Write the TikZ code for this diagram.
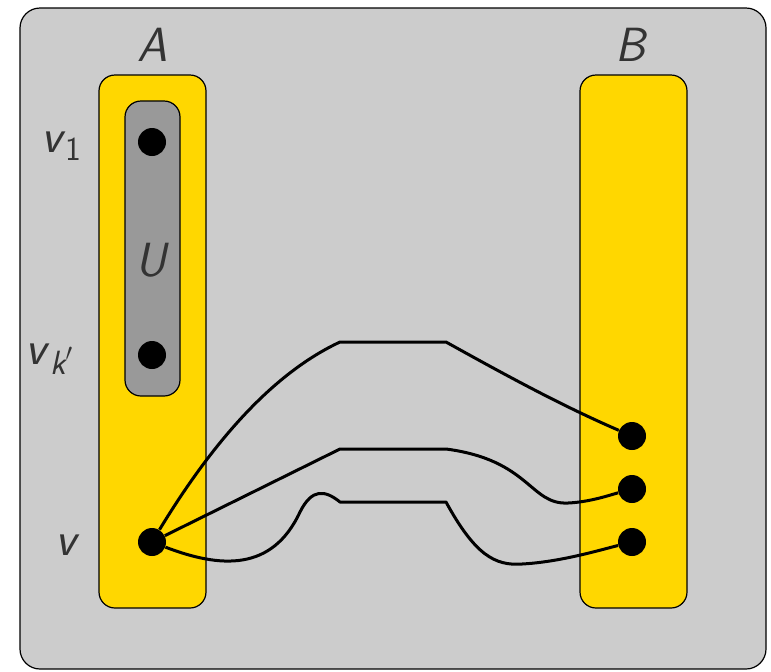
\documentclass[tikz,border=0pt]{standalone}
\usepackage{amsmath}
\usepackage{tikz}
\usetikzlibrary{positioning}
\definecolor{fond}{rgb}{0.8,0.8,0.8}
\definecolor{jaune}{rgb}{1,0.843,0}
\definecolor{grisU}{rgb}{0.6,0.6,0.6}
\definecolor{texte}{rgb}{0.2,0.2,0.2}
\newcommand{\mv}[1]{\textsf{\itshape #1}}

\begin{document}
\begin{tikzpicture}[x=0.5pt, y=-0.5pt, thin]
  \tikzstyle{part}=[draw=black, line width=0.6pt, rounded corners=8pt]
  \tikzstyle{vertex}=[circle, fill=black, inner sep=0pt, minimum size=14pt]
  \tikzstyle{lbl}=[text=texte, font=\fontsize{24}{28}\selectfont\sffamily]
  \tikzstyle{chemin}=[line width=1.5pt, line join=round]

  \useasboundingbox (0,0) rectangle (771,671);
  \fill[fond, draw=black, line width=0.6pt, rounded corners=10pt] (20,8) rectangle (766,669);

  % the two sides
  \draw[part, fill=jaune] (99,75) rectangle (206,608);
  \draw[part, fill=jaune] (580,75) rectangle (687,608);
  \draw[part, fill=grisU] (125,101) rectangle (180,396);

  \node[lbl] (A) at (152,45) {\mv{A}};
  \node[lbl] (B) at (632,45) {\mv{B}};
  \node[lbl] (U) at (152,260) {\mv{U}};

  \node[vertex] (V1) at (152,142) {};
  \node[vertex] (VK) at (152,355) {};
  \node[vertex] (V)  at (152,542) {};
  \node[vertex] (B1) at (632,436) {};
  \node[vertex] (B2) at (632,489) {};
  \node[vertex] (B3) at (632,542) {};

  \node[lbl] (LV1) at (62,146) {\mv{v}$_{\textsf{1}}$};
  \node[lbl] (LVK) at (50,359) {\mv{v}$_{\mv{k}'}$};
  \node[lbl] (LV)  at (68,545) {\mv{v}};

  % the three paths from v to B
  \draw[chemin] (V) .. controls (220,430) and (280,370) .. (340,342) -- (446,342)
    .. controls (500,372) and (560,405) .. (B1);
  \draw[chemin] (V) -- (340,449) -- (446,449)
    .. controls (530,460) and (530,505) .. (568,503)
    .. controls (590,502) and (610,495) .. (B2);
  \draw[chemin] (V) .. controls (220,568) and (272,572) .. (300,512)
    .. controls (312,488) and (325,490) .. (340,502) -- (446,502)
    .. controls (475,555) and (495,566) .. (522,564)
    .. controls (560,562) and (600,550) .. (B3);
\end{tikzpicture}
\end{document}
